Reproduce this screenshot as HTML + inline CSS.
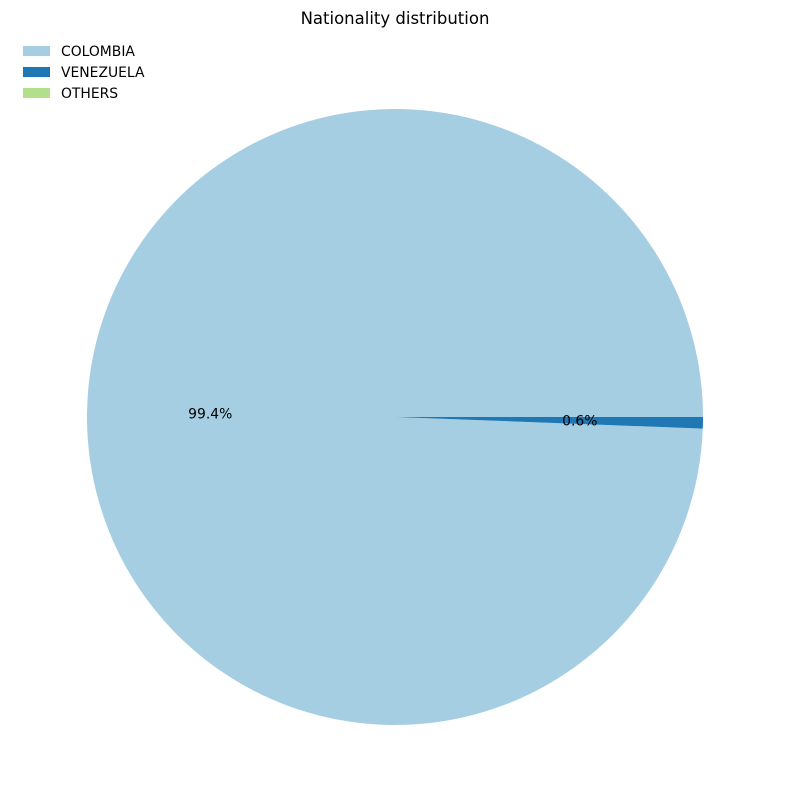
<!DOCTYPE html>
<html><head><meta charset="utf-8"><style>
body{margin:0;background:#fff;}
svg{display:block;font-family:"DejaVu Sans","Liberation Sans",sans-serif;}
</style></head><body>
<svg id="chart" width="790" height="812">
<text x="395" y="24" text-anchor="middle" font-size="16.5">Nationality distribution</text>
<g id="pie"></g>
<g id="legend"></g>
</svg>
<script>
const categories = ["COLOMBIA", "VENEZUELA", "OTHERS"];
const values = [99.4, 0.6, 0.0];
const colors = ["#a6cee3", "#1f78b4", "#b2df8a"];
const NS = "http://www.w3.org/2000/svg";
const cx = 395, cy = 417, r = 308;
const total = values.reduce((a, b) => a + b, 0);
const pie = document.getElementById("pie");
let ang = 0;
function pt(a, rad) { const t = a * Math.PI / 180; return [cx + rad * Math.cos(t), cy - rad * Math.sin(t)]; }
values.forEach((v, i) => {
  const sweep = v / total * 360;
  if (sweep <= 0) { return; }
  const a0 = ang, a1 = ang + sweep;
  const p0 = pt(a0, r), p1 = pt(a1, r);
  const large = sweep > 180 ? 1 : 0;
  const path = document.createElementNS(NS, "path");
  path.setAttribute("d", `M${cx},${cy} L${p0[0]},${p0[1]} A${r},${r} 0 ${large} 0 ${p1[0]},${p1[1]} Z`);
  path.setAttribute("fill", colors[i]);
  
  
  pie.appendChild(path);
  const mid = (a0 + a1) / 2;
  const lp = pt(mid, r * 0.6);
  const t = document.createElementNS(NS, "text");
  t.setAttribute("x", lp[0]); t.setAttribute("y", lp[1] + 5);
  t.setAttribute("text-anchor", "middle"); t.setAttribute("font-size", "13.9");
  t.textContent = (v / total * 100).toFixed(1) + "%";
  
  
  pie.appendChild(t);
  ang = a1;
});
const legend = document.getElementById("legend");
categories.forEach((c, i) => {
  const y = 46 + i * 21;
  const rect = document.createElementNS(NS, "rect");
  rect.setAttribute("x", 23); rect.setAttribute("y", y);
  rect.setAttribute("width", 27); rect.setAttribute("height", 10);
  rect.setAttribute("fill", colors[i]);
  
  
  legend.appendChild(rect);
  const t = document.createElementNS(NS, "text");
  t.setAttribute("x", 61); t.setAttribute("y", y + 10);
  t.setAttribute("font-size", "13.9");
  t.textContent = c;
  
  
  legend.appendChild(t);
});
</script>
</body></html>
